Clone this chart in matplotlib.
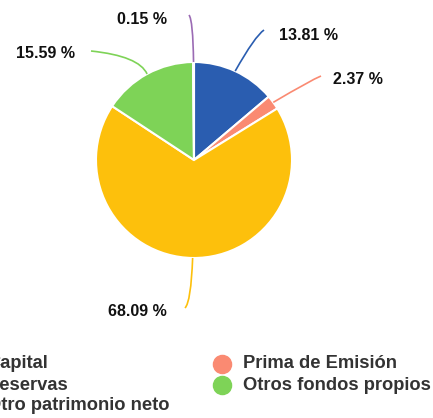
import numpy as np
import matplotlib.pyplot as plt
from matplotlib.path import Path
from matplotlib.patches import PathPatch

plt.rcParams['font.family'] = ['Liberation Sans', 'DejaVu Sans']

# datos del gráfico (orden en sentido horario desde arriba)
categorias = ["Capital", "Prima de Emisión", "Reservas", "Otros fondos propios", "Otro patrimonio neto"]
valores = [13.81, 2.37, 68.09, 15.59, 0.15]
colores = ["#2a5db0", "#fa8a72", "#fdc00c", "#7ed357", "#9b6bb4"]
etiquetas = ["%.2f %%" % v for v in valores]

W, H = 433, 418
fig = plt.figure(figsize=(W / 100, H / 100), dpi=100)
ax = fig.add_axes([0, 0, 1, 1])
ax.set_xlim(0, W)
ax.set_ylim(H, 0)
ax.set_aspect('equal')
ax.axis('off')

cx, cy, r = 194, 160, 98
# en coordenadas de pixel el eje y esta invertido: counterclock=True dibuja en sentido horario
ax.pie(valores, colors=colores, center=(cx, cy), radius=r, startangle=-90,
       counterclock=True, wedgeprops=dict(edgecolor='white', linewidth=1.5))
ax.set_xlim(0, W)
ax.set_ylim(H, 0)

# lineas guia: punto de control y final, texto
guias = [
    ((255, 36), (264, 30), (279, 35), 'left'),
    ((311, 80), (321, 76), (333, 79), 'left'),
    ((191, 302), (185, 308), (137, 311), 'center'),
    ((139, 56), (91, 51), (45, 53), 'center'),
    ((193, 20), (189, 15), (142, 20), 'center'),
]

acum = np.cumsum([0] + valores[:-1])
total = sum(valores)
for v, a0, col, lab, (ctrl, fin, tpos, ha) in zip(valores, acum, colores, etiquetas, guias):
    ang = 2 * np.pi * (a0 + v / 2) / total
    x0 = cx + r * np.sin(ang)
    y0 = cy - r * np.cos(ang)
    p = Path([(x0, y0), ctrl, fin], [Path.MOVETO, Path.CURVE3, Path.CURVE3])
    ax.add_patch(PathPatch(p, facecolor='none', edgecolor=col, lw=1.2))
    ax.text(tpos[0], tpos[1], lab, ha=ha, va='center', fontsize=11.5,
            fontweight='bold', color='#111111')

# leyenda manual
leyenda = [(-34, 364, 0), (-34, 385, 2), (-34, 406, 4), (222, 364, 1), (222, 385, 3)]
for lx, ly, i in leyenda:
    ax.scatter([lx], [ly], s=170, color=colores[i], clip_on=False, zorder=3)
    ax.text(lx + 21, ly, categorias[i], ha='left', va='center', fontsize=13.2,
            fontweight='bold', color='#333333', clip_on=False)

fig.savefig('out.png', dpi=100)
